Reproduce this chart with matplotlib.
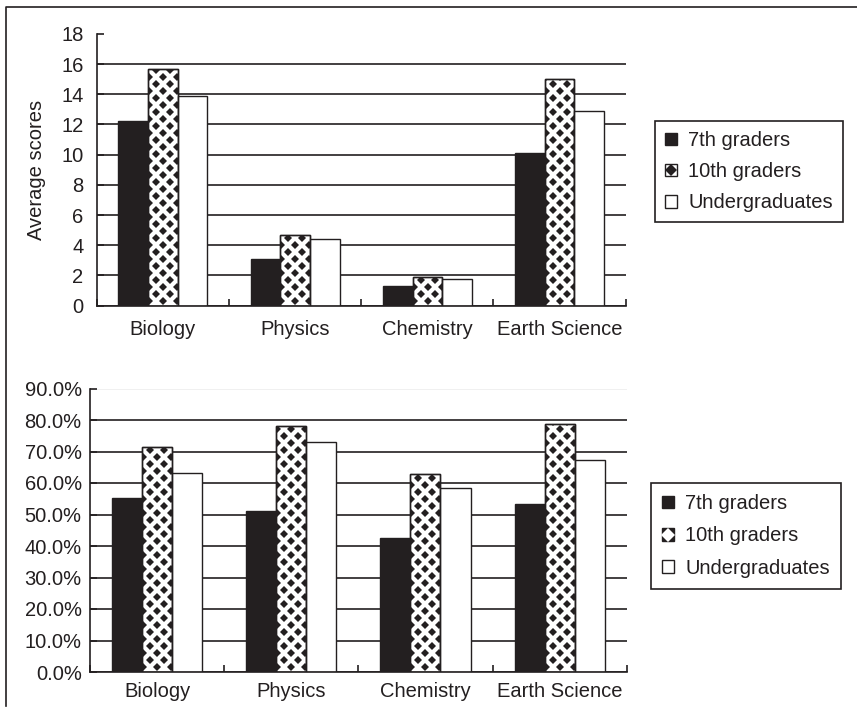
import numpy as np
import matplotlib
matplotlib.use("Agg")
import matplotlib.pyplot as plt
from matplotlib.lines import Line2D
from matplotlib.patches import Rectangle
from matplotlib.transforms import IdentityTransform
from matplotlib.legend_handler import HandlerTuple
from matplotlib.ticker import FuncFormatter, FixedLocator

plt.rcParams.update({
    "font.family": ["Liberation Sans", "DejaVu Sans"],
    "font.size": 14.5,
    "text.color": "#231f20",
    "axes.labelcolor": "#231f20",
    "xtick.color": "#231f20",
    "ytick.color": "#231f20",
})

INK = "#231f20"

subjects = ["Biology", "Physics", "Chemistry", "Earth Science"]
groups = ["7th graders", "10th graders", "Undergraduates"]

# panel 1: average scores
scores_7th = [12.2, 3.1, 1.3, 10.1]
scores_10th = [15.7, 4.7, 1.9, 15.0]
scores_ug = [13.9, 4.4, 1.8, 12.9]

# panel 2: percentage correct
pct_7th = [0.553, 0.511, 0.426, 0.533]
pct_10th = [0.713, 0.781, 0.630, 0.786]
pct_ug = [0.633, 0.731, 0.583, 0.672]

W = 0.224


def diamond_fill(ax, bar, step=14.0):
    """Staggered black diamonds, clipped to the bar (pixel lattice)."""
    x0, y0 = ax.transData.transform((bar.get_x(), 0))
    x1, y1 = ax.transData.transform((bar.get_x() + bar.get_width(), bar.get_height()))
    xs, ys = [], []
    k = 0
    y = y0 + 5
    while y < y1 + step:
        off = 1 if k % 2 == 0 else 1 + step / 2
        x = x0 + off
        while x < x1 + step:
            xs.append(x)
            ys.append(y)
            x += step
        y += step / 2
        k += 1
    ln = Line2D(xs, ys, linestyle="none", marker="D", markersize=4.0,
                markerfacecolor=INK, markeredgewidth=0,
                transform=IdentityTransform(), zorder=2.5)
    ln.set_clip_path(bar.get_path(), bar.get_transform())
    ax.add_artist(ln)


def draw_panel(ax, v7, v10, vug, ylim, yticks, fmt, label_pad):
    x = np.arange(len(subjects))
    ax.set_xlim(-0.5, len(subjects) - 0.5)
    ax.set_ylim(*ylim)
    ax.set_yticks(yticks)
    if fmt is not None:
        ax.yaxis.set_major_formatter(fmt)

    ax.bar(x - W, v7, W, color=INK, edgecolor=INK, linewidth=1, zorder=2)
    b10 = ax.bar(x, v10, W, color="white", edgecolor=INK, linewidth=1, zorder=2)
    ax.bar(x + W, vug, W, color="white", edgecolor=INK, linewidth=1, zorder=2)
    for b in b10:
        diamond_fill(ax, b)
    ax.bar(x, v10, W, fill=False, edgecolor=INK, linewidth=1, zorder=3)

    for s in ["top", "right"]:
        ax.spines[s].set_visible(False)
    for s in ["left", "bottom"]:
        ax.spines[s].set_color(INK)
        ax.spines[s].set_linewidth(1.2)

    ax.grid(axis="y", color=INK, linewidth=1.2, zorder=0)
    ax.set_axisbelow(True)
    grid = ax.get_ygridlines()
    grid[-1].set_visible(False)

    ax.set_xticks(x)
    ax.set_xticklabels(subjects)
    ax.xaxis.set_minor_locator(FixedLocator(np.arange(len(subjects) + 1) - 0.5))
    ax.tick_params(axis="x", which="major", length=0, pad=label_pad[0])
    ax.tick_params(axis="x", which="minor", direction="in", length=5, width=1.2)
    ax.tick_params(axis="y", direction="in", length=5, width=1.2, pad=label_pad[1])


fig = plt.figure(figsize=(8.57, 7.16), dpi=100)
FW, FH = 857, 716


def px_axes(left, top, right, bottom):
    return fig.add_axes([left / FW, 1 - bottom / FH, (right - left) / FW, (bottom - top) / FH])


ax1 = px_axes(96.7, 33.8, 625.7, 305.7)
draw_panel(ax1, scores_7th, scores_10th, scores_ug, (0, 18), np.arange(0, 19, 2),
           None, (10, 9.5))
ax1.set_ylabel("Average scores", labelpad=11)

ax2 = px_axes(90, 388.5, 626.7, 672)
draw_panel(ax2, pct_7th, pct_10th, pct_ug, (0, 0.9), np.arange(0, 0.91, 0.1),
           FuncFormatter(lambda v, p: f"{v * 100:.1f}%"), (7, 6))
ax2.get_ygridlines()[-1].set_visible(True)
ax2.get_ygridlines()[-1].set_color("#eeeeee")


def make_legend(anchor, second, spacing, pad):
    h7 = Rectangle((0, 0), 1, 1, facecolor=INK, edgecolor=INK)
    hug = Rectangle((0, 0), 1, 1, facecolor="white", edgecolor=INK)
    if second:
        box = Rectangle((0, 0), 1, 1, facecolor=INK, edgecolor=INK)
        mark = Line2D([], [], linestyle="none", marker="D", markersize=7,
                      markerfacecolor="white", markeredgewidth=0)
    else:
        box = Rectangle((0, 0), 1, 1, facecolor="white", edgecolor=INK)
        mark = Line2D([], [], linestyle="none", marker="D", markersize=6,
                      markerfacecolor=INK, markeredgewidth=0)
    leg = fig.legend([h7, (box, mark), hug], groups, loc="upper left",
                     bbox_to_anchor=anchor, frameon=True, fancybox=False,
                     edgecolor=INK, framealpha=1, handlelength=0.6,
                     handleheight=0.6, handletextpad=0.55, labelspacing=spacing,
                     borderpad=pad, borderaxespad=0,
                     handler_map={tuple: HandlerTuple(ndivide=1)})
    leg.get_frame().set_linewidth(1.2)
    return leg


make_legend((655 / FW, 1 - 121 / FH), False, 0.6, 0.5)
make_legend((651 / FW, 1 - 483 / FH), True, 0.66, 0.55)

# outer frame (top and left edges visible in the source)
fig.add_artist(Line2D([6 / FW, 6 / FW, 1.0], [1 - 706 / FH, 1 - 7 / FH, 1 - 7 / FH],
                      color=INK, linewidth=1.2, transform=fig.transFigure))

fig.savefig("out.png", dpi=100)
